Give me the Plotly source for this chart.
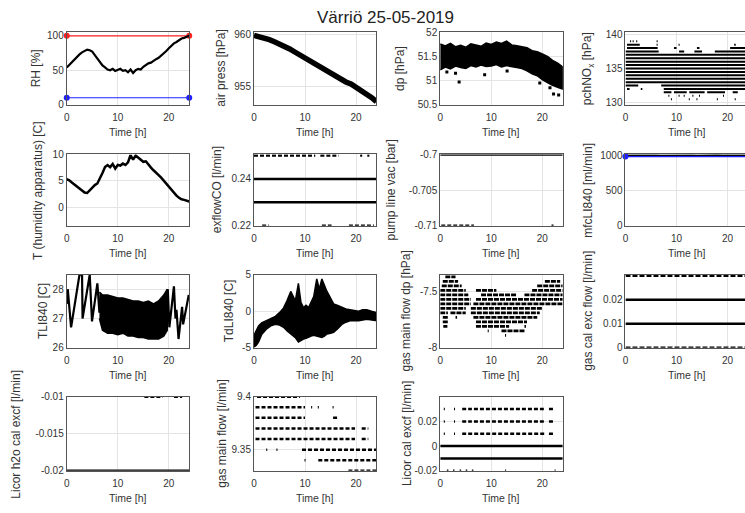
import plotly.graph_objects as go

# ---------------------------------------------------------------- data
HOURS = [0, 1, 2, 3, 4, 5, 6, 7, 8, 9, 10, 11, 12, 13, 14, 15, 16, 17, 18, 19, 20, 21, 22, 23, 24]
HALF_HOURS = [0, 0.5, 1, 1.5, 2, 2.5, 3, 3.5, 4, 4.5, 5, 5.5, 6, 6.5, 7, 7.5, 8, 8.5, 9, 9.5,
              10, 10.5, 11, 11.5, 12, 12.5, 13, 13.5, 14, 14.5, 15, 15.5, 16, 16.5, 17, 17.5,
              18, 18.5, 19, 19.5, 20, 20.5, 21, 21.5, 22, 22.5, 23, 23.5, 24]
TIME_TICKS = [0, 10, 20]

# 1  RH
rh_values = [54, 58, 62, 66, 70, 73, 76, 78, 80, 79, 77, 72, 67, 61, 57, 54, 51, 50, 52, 49,
             50, 52, 49, 50, 47, 51, 46, 50, 52, 51, 55, 58, 60, 61, 64, 66, 68, 71, 74, 78,
             82, 86, 89, 91, 94, 96, 97, 99, 100]
limit_t = [0, 24]
rh_upper_limit = [100, 100]
rh_lower_limit = [10, 10]

# 2  air pressure
air_press = [959.9, 959.8, 959.6, 959.5, 959.3, 959.1, 958.8, 958.6, 958.3, 958.0, 957.7,
             957.4, 957.1, 956.9, 956.6, 956.3, 956.0, 955.7, 955.4, 955.2, 954.9, 954.6,
             954.2, 953.9, 953.5]

# 3  dp (cloud envelope + outliers)
dp_hi = [51.76, 51.72, 51.77, 51.70, 51.73, 51.69, 51.76, 51.74, 51.71, 51.78, 51.75, 51.80,
         51.77, 51.82, 51.74, 51.72, 51.70, 51.68, 51.62, 51.60, 51.55, 51.50, 51.42, 51.36, 51.28]
dp_lo = [51.22, 51.28, 51.24, 51.30, 51.27, 51.25, 51.31, 51.28, 51.32, 51.29, 51.30, 51.33,
         51.28, 51.31, 51.29, 51.27, 51.25, 51.20, 51.14, 51.10, 51.02, 50.96, 50.90, 50.86, 50.82]
dp_out_t = [1.3, 3.0, 3.7, 8.7, 13.1, 19.5, 21.5, 22.2, 23.2]
dp_out_v = [51.18, 51.15, 50.97, 51.12, 51.2, 50.95, 50.85, 50.72, 50.7]

# 4  pchNOx (quantised levels, each with time segments)
pch_levels = [139.0, 138.5, 138.0, 137.5, 137.0, 136.5, 136.0, 135.5, 135.0, 134.5, 134.0,
              133.5, 133.0, 132.5, 132.0, 131.5, 131.0, 130.5]
pch_segments = [
    [(0.9, 1.1), (1.4, 1.6), (2.1, 2.3), (6.1, 6.3)],
    [(0.3, 2.8), (6.1, 6.3), (10.4, 10.6), (21.3, 21.6)],
    [(0.3, 6.3), (9.5, 10.0), (14.0, 14.5), (20.5, 23.5)],
    [(0, 6.5), (10.5, 11.5), (13.5, 15.0), (17.5, 24)],
    [(0, 24)], [(0, 24)], [(0, 24)], [(0, 24)], [(0, 24)],
    [(0, 24)], [(0, 24)], [(0, 24)], [(0, 24)],
    [(0, 2.5), (7, 24)],
    [(0.3, 0.8), (3, 3.3), (7.5, 23.5)],
    [(7.5, 9), (9.5, 12), (12.5, 15.5), (16, 19.5), (21, 22)],
    [(8.4, 8.6), (10.4, 10.6), (11.4, 11.6), (13.1, 13.3), (14.4, 14.6), (19.1, 19.3)],
    [(8.9, 9.1), (12.4, 12.6), (13.9, 14.1), (17.9, 18.1), (21.4, 21.6)],
]

# 5  T (humidity apparatus)
t_hum = [5.3, 5.1, 4.7, 4.3, 3.9, 3.5, 3.1, 2.8, 2.7, 3.2, 3.8, 4.2, 4.5, 5.4, 6.5, 7.6, 8.0,
         7.6, 8.2, 7.3, 8.0, 7.9, 8.3, 8.0, 8.5, 9.9, 9.0, 9.8, 9.4, 9.0, 8.6, 8.7, 8.0, 7.5,
         7.0, 6.6, 6.1, 5.6, 5.0, 4.4, 3.8, 3.2, 2.7, 2.2, 1.8, 1.5, 1.4, 1.3, 1.1]

# 6  exflowCO
exco_levels = [0.25, 0.24, 0.23, 0.22]
exco_segments = [
    [(0, 12), (13, 16.6), (20.8, 21.2), (22.2, 22.6)],
    [(0, 24)],
    [(0, 24)],
    [(1.6, 2.9), (13.3, 15.2), (18.6, 23.5)],
]

# 7  pump line vac
pump_levels = [-0.70, -0.71]
pump_segments = [[(0, 24)], [(0.2, 6.6), (21.8, 22.2)]]

# 8  mfcLI840
mfc_values = [999, 1001, 1000, 1002, 999, 1000, 1001, 998, 1000, 1002, 1000, 999, 1001, 1000,
              998, 1001, 1000, 999, 1002, 1000, 1001, 999, 1000, 1001, 1000]
mfc_limit = [985, 985]

# 9  TLI840 (sawtooth edges + dense middle envelope)
tli_early_t = [0, 0.2, 0.85, 2.5, 3.0, 3.1, 4.5, 4.95, 6.0, 6.4, 6.7]
tli_early_v = [27.5, 28.0, 26.7, 28.5, 28.5, 27.0, 28.5, 26.9, 28.2, 27.2, 27.8]
tli_band_t = [6.4, 7, 8, 9, 10, 11, 12, 13, 14, 15, 16, 17, 18, 19, 19.7]
tli_band_hi = [27.9, 27.8, 27.8, 27.75, 27.7, 27.7, 27.65, 27.6, 27.6, 27.55, 27.6, 27.5, 27.6, 27.8, 28.0]
tli_band_lo = [27.0, 26.6, 26.5, 26.5, 26.45, 26.5, 26.4, 26.4, 26.35, 26.35, 26.3, 26.3, 26.3, 26.4, 26.6]
tli_late_t = [19.5, 19.8, 20.1, 21.0, 21.3, 21.5, 21.9, 22.6, 22.8, 23.9, 24]
tli_late_v = [27.6, 28.0, 26.7, 28.1, 27.0, 27.3, 26.3, 27.4, 26.8, 27.8, 27.7]

# 10 TdLI840 (cloud envelope)
td_t = [0, 0.5, 0.9, 1.5, 2.5, 3.3, 4.2, 5.0, 5.8, 6.5, 7.2, 7.7, 8.1, 8.7, 9.2, 9.7, 10.2,
        10.7, 11.2, 11.7, 12.3, 12.8, 13.3, 13.8, 14.3, 15.0, 15.6, 16.4, 17.2, 18.0, 18.8,
        19.6, 20.5, 21.3, 22.1, 23.0, 24]
td_hi = [-3.3, -2.5, -2.0, -1.6, -1.3, -1.0, -0.7, -0.2, 0.45, 1.5, 2.7, 2.0, 1.4, 3.8, 1.2,
         0.5, 0.8, 0.5, 1.2, 2.0, 4.4, 3.0, 4.4, 3.5, 2.7, 1.8, 1.0, 0.8, 0.5, 0.3, 0.2, 0.1,
         0.0, 0.2, 0.2, 0.0, -0.2]
td_lo = [-4.9, -4.6, -4.2, -3.2, -2.4, -2.0, -1.8, -1.9, -2.2, -2.7, -3.1, -3.4, -3.6, -4.2,
         -4.0, -3.8, -3.7, -3.6, -3.4, -3.3, -3.4, -3.5, -3.6, -3.4, -3.1, -3.0, -2.9, -2.4,
         -1.8, -1.5, -1.3, -1.3, -1.3, -1.2, -1.1, -1.2, -1.3]

# 11 gas main flow dp
gmd_levels = [-7.37, -7.41, -7.45, -7.49, -7.53, -7.57, -7.61, -7.65, -7.69, -7.73, -7.77,
              -7.81, -7.85, -7.89]
gmd_segments = [
    [(1, 3)],
    [(0.5, 3.5), (20.5, 23.5)],
    [(0.3, 4.2), (19, 24)],
    [(0, 5), (7, 11), (18, 24)],
    [(0, 5.5), (8, 15), (16.5, 24)],
    [(0, 6), (7, 24)],
    [(0, 6), (6.5, 24)],
    [(0, 5), (6, 20)],
    [(0, 1.5), (2, 5), (6, 19.5)],
    [(0.5, 1.5), (3, 3.3), (6.5, 19)],
    [(0.5, 1.5), (7, 17)],
    [(0.6, 1.4), (7, 13.5), (16.5, 16.8)],
    [(9.3, 9.5), (12, 16.5)],
    [(12.7, 12.9)],
]

# 12 gas cal exc flow
gcal_levels = [0.03, 0.02, 0.01, 0.0]
gcal_segments = [[(0, 24)], [(0, 24)], [(0, 24)], [(0, 24)]]

# 13 Licor h2o cal excf
lh2o_levels = [-0.01, -0.02]
lh2o_segments = [[(15.2, 18.8), (21, 22.6)], [(0, 24)]]

# 14 gas main flow
gmf_levels = [9.40, 9.39, 9.38, 9.37, 9.36, 9.35, 9.34, 9.33]
gmf_segments = [
    [(0.6, 9.0)],
    [(0.3, 10.0), (11.2, 11.4), (12.5, 12.7), (15.4, 15.6)],
    [(0.3, 10.0), (15.5, 16.5)],
    [(0.3, 19.8), (21.1, 22.4)],
    [(0.3, 19.8), (21.1, 22.4)],
    [(2.4, 2.6), (4.4, 4.6), (9.4, 24)],
    [(9.9, 10.1), (12.6, 24)],
    [(18.5, 24)],
]

# 15 Licor cal excf
lcal_levels = [0.03, 0.02, 0.01, 0.0, -0.01, -0.02]
lcal_segments = [
    [(0.7, 0.9), (2.7, 2.9), (4.3, 6.2), (6.6, 20.3), (21.3, 22.3)],
    [(0.7, 0.9), (2.7, 2.9), (4.3, 6.2), (6.6, 20.3), (21.3, 22.3)],
    [(0.7, 0.9), (2.7, 2.9), (4.3, 20.5), (21.3, 22.3)],
    [(0, 24)],
    [(0, 24)],
    [(1.3, 1.6), (2.5, 2.8), (3.8, 4.1), (5.0, 5.3), (6.2, 6.5), (12.7, 12.9), (22.4, 22.6)],
]

# axis texts
y_titles = ["RH [%]", "air press [hPa]", "dp [hPa]", "pchNO<sub>x</sub> [hPa]",
            "T (humidity apparatus) [C]", "exflowCO [l/min]", "pump line vac [bar]",
            "mfcLI840 [ml/min]", "TLI840 [C]", "TdLI840 [C]", "gas main flow dp [hPa]",
            "gas cal exc flow [l/min]", "Licor h2o cal excf [l/min]", "gas main flow [l/min]",
            "Licor cal excf [l/min]"]
y_ranges = [[0, 105], [953.2, 960.2], [50.5, 52], [129.7, 140.3], [-3.5, 10], [0.22, 0.2505],
            [-0.71, -0.70], [0, 1015], [26, 28.5], [-5, 5], [-8, -7.35], [0, 0.0305],
            [-0.02, -0.01], [9.33, 9.40], [-0.02, 0.04]]
y_tickvals = [[0, 50, 100], [955, 960], [50.5, 51, 51.5, 52], [130, 135, 140], [0, 5, 10],
              [0.22, 0.24], [-0.71, -0.705, -0.70], [0, 500, 1000], [26, 27, 28], [-5, 0, 5],
              [-8, -7.5], [0, 0.01, 0.02], [-0.02, -0.015, -0.01], [9.35, 9.4], [-0.02, 0, 0.02]]
y_ticktext = [["0", "50", "100"], ["955", "960"], ["50.5", "51", "51.5", "52"],
              ["130", "135", "140"], ["0", "5", "10"], ["0.22", "0.24"],
              ["-0.71", "-0.705", "-0.7"], ["0", "500", "1000"], ["26", "27", "28"],
              ["-5", "0", "5"], ["-8", "-7.5"], ["0", "0.01", "0.02"],
              ["-0.02", "-0.015", "-0.01"], ["9.35", "9.4"], ["-0.02", "0", "0.02"]]
title_text = "Värriö 25-05-2019"

# ---------------------------------------------------------------- layout geometry (px)
W, H = 745, 513
COL_PX = [(64, 187), (252, 375), (439, 562), (625, 748)]
ROW_PX = [(27, 101), (152, 225), (275, 350), (400, 476)]
YLAB_X = [33, 218, 398, 587, 35, 215, 390, 587, 40, 227, 405, 588, 13, 220, 405]

FONT = "Liberation Sans, Arial, sans-serif"
TXT = "#333333"
BLACK = "#000000"

fig = go.Figure()
layout = dict(width=W, height=H, margin=dict(l=0, r=0, t=0, b=0),
              paper_bgcolor="white", plot_bgcolor="white", showlegend=False,
              font=dict(family=FONT, color=TXT, size=10))
annotations = []

for i in range(1, 16):
    c, r = (i - 1) % 4, (i - 1) // 4
    x0, x1 = COL_PX[c]
    y0, y1 = ROW_PX[r]
    xr = [0, 24]
    mirror_y = True
    if x1 > W:
        xr = [0, 24 * (W - x0) / (x1 - x0)]
        x1 = W
        mirror_y = False
    sfx = "" if i == 1 else str(i)
    layout["xaxis" + sfx] = dict(
        domain=[x0 / W, x1 / W], anchor="y" + sfx, range=xr, tickvals=TIME_TICKS,
        ticktext=[str(v) for v in TIME_TICKS], showline=True, linecolor="#555555",
        linewidth=1, mirror=True, showgrid=True, gridcolor="#e4e4e4", gridwidth=1,
        zeroline=False, ticks="outside", ticklen=3, tickcolor="rgba(0,0,0,0)",
        tickfont=dict(size=10, color=TXT, family=FONT))
    layout["yaxis" + sfx] = dict(
        domain=[1 - y1 / H, 1 - y0 / H], anchor="x" + sfx, range=y_ranges[i - 1],
        tickvals=y_tickvals[i - 1], ticktext=y_ticktext[i - 1], showline=True,
        linecolor="#555555", linewidth=1, mirror=mirror_y, showgrid=True,
        gridcolor="#e4e4e4", gridwidth=1, zeroline=False, ticks="",
        tickfont=dict(size=10, color=TXT, family=FONT))
    cx = (COL_PX[c][0] + COL_PX[c][1]) / 2
    annotations.append(dict(text="Time [h]", x=cx / W, y=1 - (y1 + 28) / H, xref="paper",
                            yref="paper", showarrow=False, xanchor="center", yanchor="middle",
                            font=dict(size=10.5, color=TXT, family=FONT)))
    annotations.append(dict(text=y_titles[i - 1], x=YLAB_X[i - 1] / W, y=1 - ((y0 + y1) / 2) / H,
                            xref="paper", yref="paper", showarrow=False, textangle=-90,
                            xanchor="center", yanchor="middle",
                            font=dict(size=12, color=TXT, family=FONT)))

annotations.append(dict(text=title_text, x=384 / W, y=1 - 12 / H, xref="paper", yref="paper",
                        showarrow=False, xanchor="center", yanchor="middle",
                        font=dict(size=17, color="#222222", family=FONT)))
layout["annotations"] = annotations


def ax(i):
    return ("x" if i == 1 else "x%d" % i), ("y" if i == 1 else "y%d" % i)


def line(i, x, y, color=BLACK, width=2, dash=None):
    xa, ya = ax(i)
    fig.add_trace(go.Scatter(x=x, y=y, mode="lines", xaxis=xa, yaxis=ya,
                             line=dict(color=color, width=width, dash=dash), hoverinfo="skip"))


def band(i, t, hi, lo):
    xa, ya = ax(i)
    fig.add_trace(go.Scatter(x=list(t) + list(t)[::-1], y=list(hi) + list(lo)[::-1],
                             mode="lines", fill="toself", fillcolor=BLACK, xaxis=xa, yaxis=ya,
                             line=dict(color=BLACK, width=1.5), hoverinfo="skip"))


def limit(i, t, v, color):
    xa, ya = ax(i)
    fig.add_trace(go.Scatter(x=t, y=v, mode="lines+markers", xaxis=xa, yaxis=ya,
                             cliponaxis=False, line=dict(color=color, width=1.2),
                             marker=dict(color=color, size=6, symbol="circle"),
                             hoverinfo="skip"))


def levels(i, lev, segs, width=2.5, dash=None, dash_idx=()):
    for k, (lv, sg) in enumerate(zip(lev, segs)):
        xs, ys = [], []
        for a, b in sg:
            xs += [a, b, None]
            ys += [lv, lv, None]
        line(i, xs, ys, width=width, dash=(dash if k in dash_idx else None))


# 1
limit(1, limit_t, rh_upper_limit, "#ff2020")
limit(1, limit_t, rh_lower_limit, "#2020ff")
line(1, HALF_HOURS, rh_values, width=2.2)
# 2
line(2, HOURS, air_press, width=5.5)
# 3
band(3, HOURS, dp_hi, dp_lo)
fig.add_trace(go.Scatter(x=dp_out_t, y=dp_out_v, mode="markers", xaxis="x3", yaxis="y3",
                         marker=dict(color=BLACK, size=3, symbol="square"), hoverinfo="skip"))
# 4
levels(4, pch_levels, pch_segments, width=2.0)
# 5
line(5, HALF_HOURS, t_hum, width=2.5)
# 6
levels(6, exco_levels, exco_segments, width=2.5, dash="4px,2px", dash_idx=(0, 3))
# 7
levels(7, pump_levels, pump_segments, width=2.5, dash="4px,2px", dash_idx=(1,))
# 8
line(8, HOURS, mfc_values, width=2.5)
limit(8, limit_t, mfc_limit, "#2020ff")
# 9
line(9, tli_early_t, tli_early_v, width=2.2)
band(9, tli_band_t, tli_band_hi, tli_band_lo)
line(9, tli_late_t, tli_late_v, width=2.2)
# 10
band(10, td_t, td_hi, td_lo)
# 11
levels(11, gmd_levels, gmd_segments, width=2.8, dash="5px,1px",
       dash_idx=tuple(range(len(gmd_levels))))
# 12
levels(12, gcal_levels, gcal_segments, width=2.5, dash="5px,2px", dash_idx=(0, 3))
# 13
levels(13, lh2o_levels, lh2o_segments, width=2.5, dash="4px,2px", dash_idx=(0,))
# 14
levels(14, gmf_levels, gmf_segments, width=2.5, dash="4px,2px",
       dash_idx=tuple(range(len(gmf_levels))))
# 15
levels(15, lcal_levels, lcal_segments, width=2.5, dash="4px,2px", dash_idx=(0, 1, 2, 5))

fig.update_layout(**layout)
fig.write_html("out.html")
